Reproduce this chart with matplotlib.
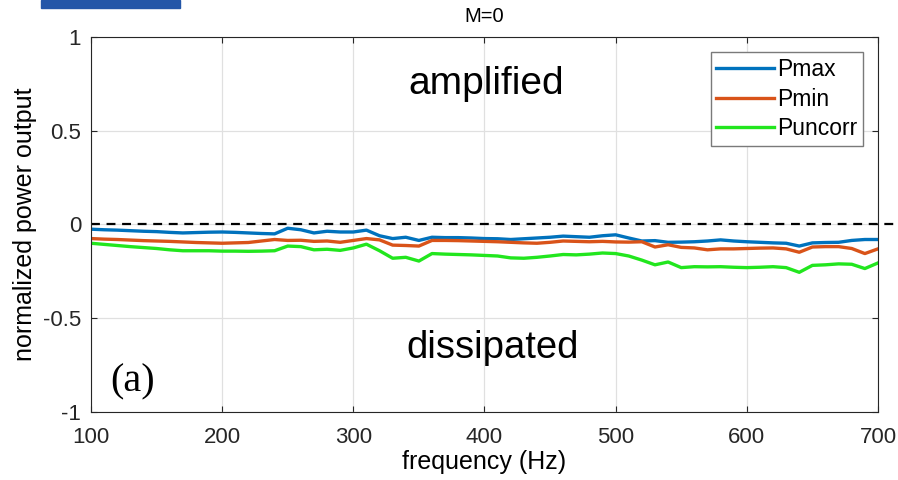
import numpy as np
import matplotlib.pyplot as plt
from matplotlib.patches import Rectangle

plt.rcParams['font.family'] = ['Liberation Sans', 'DejaVu Sans']

# Dados
freq = np.arange(100, 701, 10)

pmax = [-0.025, -0.028, -0.030, -0.033, -0.036, -0.038, -0.042, -0.045, -0.043, -0.041,
        -0.040, -0.042, -0.045, -0.048, -0.050, -0.020, -0.028, -0.045, -0.036, -0.040,
        -0.040, -0.030, -0.060, -0.075, -0.068, -0.085, -0.068, -0.070, -0.070, -0.072,
        -0.075, -0.076, -0.080, -0.076, -0.072, -0.068, -0.062, -0.065, -0.068, -0.060,
        -0.055, -0.072, -0.088, -0.086, -0.095, -0.094, -0.092, -0.088, -0.082, -0.088,
        -0.092, -0.095, -0.098, -0.100, -0.115, -0.098, -0.096, -0.095, -0.085, -0.080,
        -0.080]

pmin = [-0.075, -0.078, -0.080, -0.083, -0.086, -0.088, -0.090, -0.093, -0.096, -0.098,
        -0.100, -0.098, -0.096, -0.088, -0.080, -0.085, -0.084, -0.090, -0.088, -0.095,
        -0.085, -0.075, -0.082, -0.110, -0.112, -0.115, -0.085, -0.085, -0.086, -0.088,
        -0.090, -0.092, -0.095, -0.098, -0.100, -0.095, -0.088, -0.090, -0.092, -0.090,
        -0.093, -0.094, -0.092, -0.120, -0.108, -0.122, -0.125, -0.135, -0.130, -0.130,
        -0.128, -0.126, -0.125, -0.130, -0.148, -0.120, -0.118, -0.118, -0.128, -0.155,
        -0.130]

puncorr = [-0.100, -0.106, -0.112, -0.118, -0.123, -0.128, -0.135, -0.140, -0.140, -0.140,
           -0.142, -0.142, -0.143, -0.142, -0.140, -0.115, -0.118, -0.135, -0.132, -0.138,
           -0.125, -0.105, -0.140, -0.180, -0.175, -0.195, -0.155, -0.158, -0.160, -0.162,
           -0.165, -0.168, -0.178, -0.180, -0.175, -0.168, -0.160, -0.162, -0.158, -0.152,
           -0.155, -0.168, -0.190, -0.215, -0.200, -0.230, -0.225, -0.226, -0.225, -0.228,
           -0.230, -0.228, -0.225, -0.230, -0.255, -0.218, -0.215, -0.210, -0.212, -0.235,
           -0.205]

fig = plt.figure(figsize=(8.98, 4.8), dpi=100)
ax = fig.add_axes([0.1013, 1 - 412 / 480, 0.8764, (412 - 37) / 480])

# faixa azul no topo (logo cortado)
fig.patches.append(Rectangle((41 / 898, 1 - 8 / 480), 139 / 898, 8 / 480,
                             transform=fig.transFigure, color='#2356a8', zorder=0))

ax.plot(freq, pmax, color='#0072BD', lw=2.4, label='Pmax')
ax.plot(freq, pmin, color='#D95319', lw=2.4, label='Pmin')
ax.plot(freq, puncorr, color='#22E61E', lw=2.4, label='Puncorr')
ax.axhline(0, xmin=0, xmax=1.03, color='black', ls='--', lw=1.6, dashes=(4, 3), clip_on=False)

ax.set_xlim(100, 700)
ax.set_ylim(-1, 1)
ax.set_xticks([100, 200, 300, 400, 500, 600, 700])
ax.set_yticks([-1, -0.5, 0, 0.5, 1])
ax.set_yticklabels(['-1', '-0.5', '0', '0.5', '1'])
ax.grid(True, color='#e0e0e0', lw=0.9)
ax.set_axisbelow(True)
for s in ax.spines.values():
    s.set_color('#262626')
ax.tick_params(labelsize=16, colors='#262626', direction='in', length=4,
               top=True, right=True)
ax.tick_params(axis='x', pad=11)
ax.tick_params(axis='y', pad=7)

ax.set_title('M=0', fontsize=14.5, pad=11)
ax.set_xlabel('frequency (Hz)', fontsize=18, labelpad=1)
ax.set_ylabel('normalized power output', fontsize=18, labelpad=4)

ax.text(401, 0.75, 'amplified', fontsize=28, ha='center', va='center')
ax.text(406, -0.66, 'dissipated', fontsize=27.5, ha='center', va='center')
ax.text(132, -0.84, '(a)', fontsize=29, ha='center', va='center', family='Liberation Serif')

leg = ax.legend(loc='upper right', fontsize=16.5, fancybox=False, framealpha=1,
                edgecolor='#7a7a7a', handlelength=2.5, handletextpad=0.15,
                labelspacing=0.3, borderpad=0.25, borderaxespad=0,
                bbox_to_anchor=(1 - 15 / 787, 1 - 15 / 375))
leg.get_frame().set_linewidth(1.0)

fig.savefig('out.png', dpi=100)
